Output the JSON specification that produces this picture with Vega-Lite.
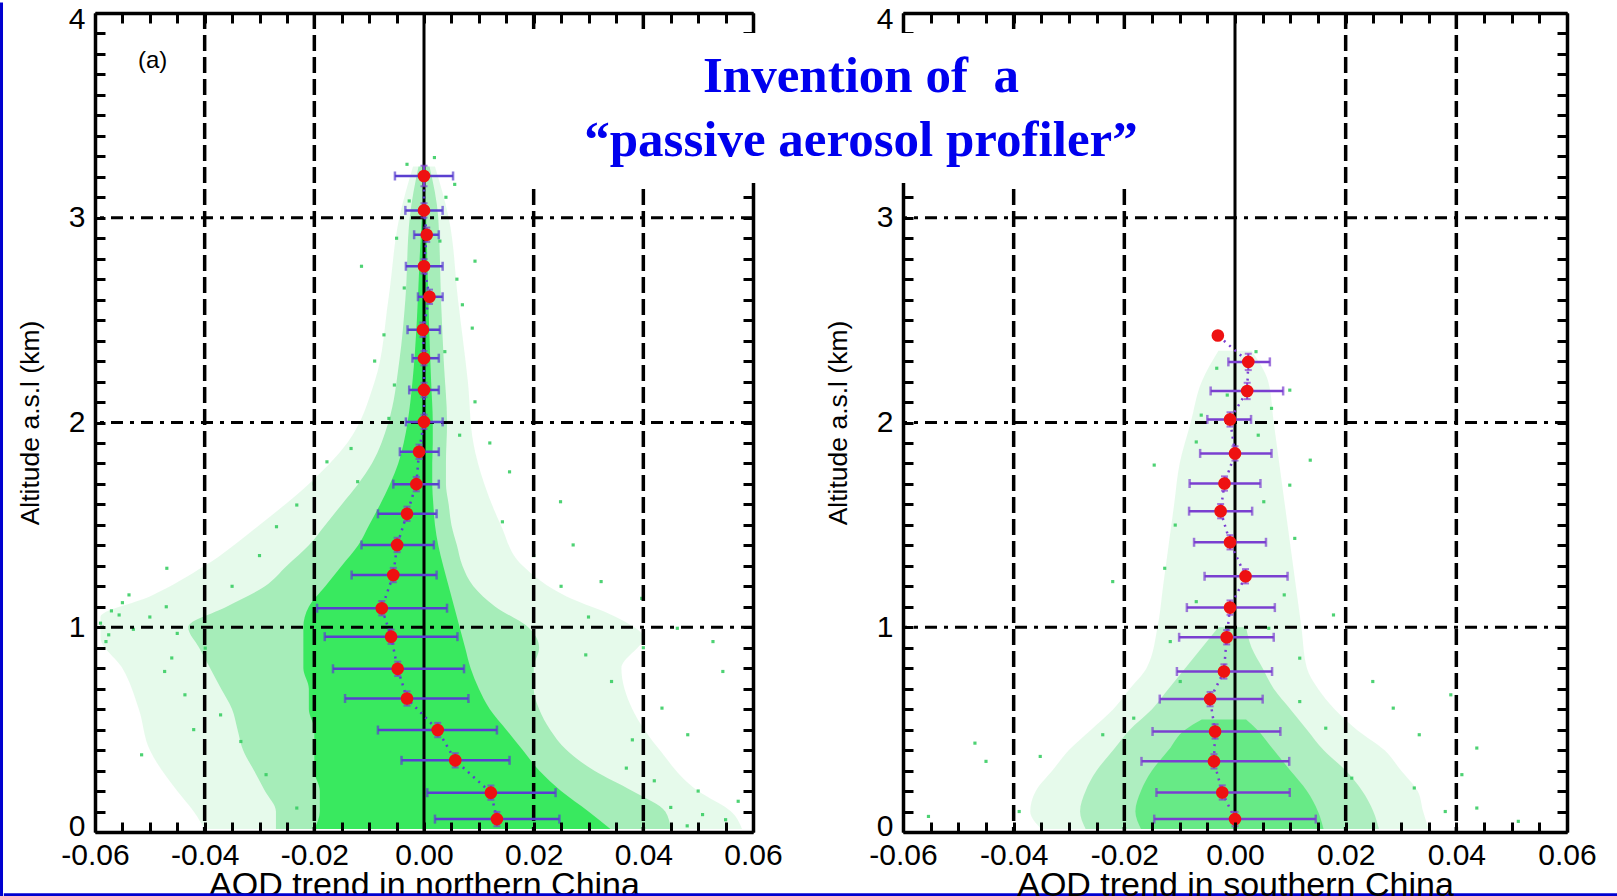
{
  "$schema": "https://vega.github.io/schema/vega-lite/v6.json",
  "padding": 0,
  "autosize": {"type": "pad"},
  "background": "white",
  "bounds": "flush",
  "spacing": 150,
  "config": {
    "font": "Liberation Sans",
    "view": {"stroke": null},
    "axis": {"grid": false, "domainColor": "black", "domainWidth": 3.5, "tickColor": "black", "tickWidth": 3, "tickSize": -10, "labelFont": "Liberation Sans", "labelFontSize": 30, "labelColor": "black", "labelOverlap": false, "labelBound": false, "titleFont": "Liberation Sans", "titleFontWeight": "normal", "titleColor": "black"},
    "axisX": {"labelPadding": 18, "titleFontSize": 34, "titlePadding": -2, "labelFlush": false},
    "axisY": {"labelPadding": 20, "titleFontSize": 26.5, "titlePadding": 24, "labelFlushOffset": 9}
  },
  "datasets": {
    "pts": [
      {"p":"N","alt":3.204,"x":0.0,"lo":-0.0053,"hi":0.0053,"alo":3.154,"ahi":3.254},
      {"p":"N","alt":3.036,"x":0.0,"lo":-0.0034,"hi":0.0034,"alo":3.001,"ahi":3.071},
      {"p":"N","alt":2.917,"x":0.0005,"lo":-0.0018,"hi":0.0027,"alo":2.882,"ahi":2.952},
      {"p":"N","alt":2.763,"x":0.0,"lo":-0.0033,"hi":0.0034,"alo":2.728,"ahi":2.798},
      {"p":"N","alt":2.614,"x":0.001,"lo":-0.0011,"hi":0.0034,"alo":2.579,"ahi":2.649},
      {"p":"N","alt":2.453,"x":-0.0002,"lo":-0.003,"hi":0.0029,"alo":2.418,"ahi":2.488},
      {"p":"N","alt":2.314,"x":0.0,"lo":-0.0021,"hi":0.0027,"alo":2.279,"ahi":2.349},
      {"p":"N","alt":2.159,"x":0.0,"lo":-0.0027,"hi":0.0027,"alo":2.124,"ahi":2.194},
      {"p":"N","alt":2.003,"x":0.0,"lo":-0.0033,"hi":0.0034,"alo":1.968,"ahi":2.038},
      {"p":"N","alt":1.857,"x":-0.0009,"lo":-0.0044,"hi":0.0027,"alo":1.822,"ahi":1.892},
      {"p":"N","alt":1.699,"x":-0.0014,"lo":-0.0056,"hi":0.0027,"alo":1.664,"ahi":1.734},
      {"p":"N","alt":1.554,"x":-0.0031,"lo":-0.0084,"hi":0.0023,"alo":1.519,"ahi":1.589},
      {"p":"N","alt":1.402,"x":-0.0049,"lo":-0.0114,"hi":0.0018,"alo":1.367,"ahi":1.437},
      {"p":"N","alt":1.255,"x":-0.0056,"lo":-0.0132,"hi":0.0023,"alo":1.22,"ahi":1.29},
      {"p":"N","alt":1.093,"x":-0.0077,"lo":-0.0195,"hi":0.0042,"alo":1.058,"ahi":1.128},
      {"p":"N","alt":0.954,"x":-0.006,"lo":-0.0181,"hi":0.0061,"alo":0.919,"ahi":0.989},
      {"p":"N","alt":0.797,"x":-0.0048,"lo":-0.0166,"hi":0.0073,"alo":0.762,"ahi":0.832},
      {"p":"N","alt":0.652,"x":-0.0031,"lo":-0.0144,"hi":0.0081,"alo":0.617,"ahi":0.687},
      {"p":"N","alt":0.498,"x":0.0025,"lo":-0.0084,"hi":0.0133,"alo":0.463,"ahi":0.533},
      {"p":"N","alt":0.35,"x":0.0057,"lo":-0.0041,"hi":0.0156,"alo":0.315,"ahi":0.385},
      {"p":"N","alt":0.192,"x":0.0122,"lo":0.0006,"hi":0.024,"alo":0.157,"ahi":0.227},
      {"p":"N","alt":0.063,"x":0.0133,"lo":0.002,"hi":0.0247,"alo":0.028,"ahi":0.098},
      {"p":"S","alt":2.425,"x":-0.0031,"lo":null,"hi":null,"alo":null,"ahi":null},
      {"p":"S","alt":2.296,"x":0.0024,"lo":-0.0012,"hi":0.0063,"alo":2.256,"ahi":2.336},
      {"p":"S","alt":2.154,"x":0.0022,"lo":-0.0044,"hi":0.0087,"alo":2.114,"ahi":2.194},
      {"p":"S","alt":2.015,"x":-0.0009,"lo":-0.005,"hi":0.0029,"alo":1.98,"ahi":2.05},
      {"p":"S","alt":1.849,"x":0.0,"lo":-0.0063,"hi":0.0066,"alo":1.814,"ahi":1.884},
      {"p":"S","alt":1.702,"x":-0.0019,"lo":-0.0082,"hi":0.0046,"alo":1.667,"ahi":1.737},
      {"p":"S","alt":1.567,"x":-0.0026,"lo":-0.0083,"hi":0.0031,"alo":1.532,"ahi":1.602},
      {"p":"S","alt":1.415,"x":-0.0009,"lo":-0.0074,"hi":0.0056,"alo":1.38,"ahi":1.45},
      {"p":"S","alt":1.249,"x":0.0019,"lo":-0.0055,"hi":0.0095,"alo":1.214,"ahi":1.284},
      {"p":"S","alt":1.096,"x":-0.0009,"lo":-0.0087,"hi":0.0072,"alo":1.061,"ahi":1.131},
      {"p":"S","alt":0.951,"x":-0.0015,"lo":-0.0101,"hi":0.007,"alo":0.916,"ahi":0.986},
      {"p":"S","alt":0.784,"x":-0.002,"lo":-0.0105,"hi":0.0067,"alo":0.749,"ahi":0.819},
      {"p":"S","alt":0.649,"x":-0.0045,"lo":-0.0136,"hi":0.005,"alo":0.614,"ahi":0.684},
      {"p":"S","alt":0.491,"x":-0.0036,"lo":-0.0149,"hi":0.0082,"alo":0.456,"ahi":0.526},
      {"p":"S","alt":0.345,"x":-0.0038,"lo":-0.0169,"hi":0.0098,"alo":0.31,"ahi":0.38},
      {"p":"S","alt":0.193,"x":-0.0023,"lo":-0.0142,"hi":0.0099,"alo":0.158,"ahi":0.228},
      {"p":"S","alt":0.063,"x":0.0,"lo":-0.0146,"hi":0.0146,"alo":0.028,"ahi":0.098}
    ],
    "env": [
      {"p":"N","lv":"o","y":0.015,"x1":-0.040,"x2":0.058},
      {"p":"N","lv":"o","y":0.1,"x1":-0.042,"x2":0.056},
      {"p":"N","lv":"o","y":0.2,"x1":-0.045,"x2":0.050},
      {"p":"N","lv":"o","y":0.4,"x1":-0.050,"x2":0.043},
      {"p":"N","lv":"o","y":0.6,"x1":-0.052,"x2":0.038},
      {"p":"N","lv":"o","y":0.8,"x1":-0.055,"x2":0.036},
      {"p":"N","lv":"o","y":0.95,"x1":-0.059,"x2":0.040},
      {"p":"N","lv":"o","y":1.05,"x1":-0.059,"x2":0.035},
      {"p":"N","lv":"o","y":1.15,"x1":-0.050,"x2":0.026},
      {"p":"N","lv":"o","y":1.3,"x1":-0.040,"x2":0.018},
      {"p":"N","lv":"o","y":1.5,"x1":-0.030,"x2":0.014},
      {"p":"N","lv":"o","y":1.7,"x1":-0.021,"x2":0.011},
      {"p":"N","lv":"o","y":1.9,"x1":-0.014,"x2":0.009},
      {"p":"N","lv":"o","y":2.2,"x1":-0.009,"x2":0.008},
      {"p":"N","lv":"o","y":2.6,"x1":-0.0065,"x2":0.0062},
      {"p":"N","lv":"o","y":3.0,"x1":-0.0045,"x2":0.0045},
      {"p":"N","lv":"o","y":3.25,"x1":-0.002,"x2":0.002},
      {"p":"N","lv":"m","y":0.015,"x1":-0.027,"x2":0.045},
      {"p":"N","lv":"m","y":0.1,"x1":-0.027,"x2":0.044},
      {"p":"N","lv":"m","y":0.2,"x1":-0.029,"x2":0.038},
      {"p":"N","lv":"m","y":0.3,"x1":-0.031,"x2":0.031},
      {"p":"N","lv":"m","y":0.4,"x1":-0.033,"x2":0.026},
      {"p":"N","lv":"m","y":0.5,"x1":-0.034,"x2":0.023},
      {"p":"N","lv":"m","y":0.6,"x1":-0.035,"x2":0.021},
      {"p":"N","lv":"m","y":0.7,"x1":-0.037,"x2":0.020},
      {"p":"N","lv":"m","y":0.8,"x1":-0.039,"x2":0.020},
      {"p":"N","lv":"m","y":0.9,"x1":-0.041,"x2":0.021},
      {"p":"N","lv":"m","y":1.0,"x1":-0.043,"x2":0.019},
      {"p":"N","lv":"m","y":1.1,"x1":-0.036,"x2":0.013},
      {"p":"N","lv":"m","y":1.2,"x1":-0.029,"x2":0.009},
      {"p":"N","lv":"m","y":1.3,"x1":-0.025,"x2":0.007},
      {"p":"N","lv":"m","y":1.4,"x1":-0.021,"x2":0.006},
      {"p":"N","lv":"m","y":1.5,"x1":-0.018,"x2":0.005},
      {"p":"N","lv":"m","y":1.6,"x1":-0.015,"x2":0.0045},
      {"p":"N","lv":"m","y":1.7,"x1":-0.012,"x2":0.004},
      {"p":"N","lv":"m","y":1.8,"x1":-0.0095,"x2":0.004},
      {"p":"N","lv":"m","y":2.0,"x1":-0.0065,"x2":0.0042},
      {"p":"N","lv":"m","y":2.3,"x1":-0.0045,"x2":0.0036},
      {"p":"N","lv":"m","y":2.6,"x1":-0.0034,"x2":0.0031},
      {"p":"N","lv":"m","y":3.0,"x1":-0.0026,"x2":0.0026},
      {"p":"N","lv":"m","y":3.25,"x1":-0.001,"x2":0.001},
      {"p":"N","lv":"c","y":0.015,"x1":-0.020,"x2":0.034},
      {"p":"N","lv":"c","y":0.1,"x1":-0.019,"x2":0.030},
      {"p":"N","lv":"c","y":0.2,"x1":-0.019,"x2":0.025},
      {"p":"N","lv":"c","y":0.3,"x1":-0.020,"x2":0.021},
      {"p":"N","lv":"c","y":0.4,"x1":-0.020,"x2":0.018},
      {"p":"N","lv":"c","y":0.5,"x1":-0.020,"x2":0.015},
      {"p":"N","lv":"c","y":0.6,"x1":-0.021,"x2":0.012},
      {"p":"N","lv":"c","y":0.7,"x1":-0.021,"x2":0.010},
      {"p":"N","lv":"c","y":0.8,"x1":-0.022,"x2":0.0085},
      {"p":"N","lv":"c","y":0.9,"x1":-0.022,"x2":0.0075},
      {"p":"N","lv":"c","y":1.0,"x1":-0.022,"x2":0.0065},
      {"p":"N","lv":"c","y":1.1,"x1":-0.021,"x2":0.0055},
      {"p":"N","lv":"c","y":1.2,"x1":-0.018,"x2":0.0045},
      {"p":"N","lv":"c","y":1.3,"x1":-0.015,"x2":0.0035},
      {"p":"N","lv":"c","y":1.4,"x1":-0.012,"x2":0.0026},
      {"p":"N","lv":"c","y":1.5,"x1":-0.010,"x2":0.002},
      {"p":"N","lv":"c","y":1.6,"x1":-0.008,"x2":0.0017},
      {"p":"N","lv":"c","y":1.7,"x1":-0.0062,"x2":0.0015},
      {"p":"N","lv":"c","y":1.8,"x1":-0.0047,"x2":0.0015},
      {"p":"N","lv":"c","y":1.9,"x1":-0.0037,"x2":0.0016},
      {"p":"N","lv":"c","y":2.0,"x1":-0.003,"x2":0.0016},
      {"p":"N","lv":"c","y":2.2,"x1":-0.0021,"x2":0.0013},
      {"p":"N","lv":"c","y":2.5,"x1":-0.0013,"x2":0.0009},
      {"p":"N","lv":"c","y":2.8,"x1":-0.0008,"x2":0.0006},
      {"p":"N","lv":"c","y":3.0,"x1":-0.0004,"x2":0.0004},
      {"p":"S","lv":"o","y":0.015,"x1":-0.035,"x2":0.035},
      {"p":"S","lv":"o","y":0.1,"x1":-0.037,"x2":0.034},
      {"p":"S","lv":"o","y":0.2,"x1":-0.036,"x2":0.033},
      {"p":"S","lv":"o","y":0.3,"x1":-0.033,"x2":0.030},
      {"p":"S","lv":"o","y":0.4,"x1":-0.030,"x2":0.027},
      {"p":"S","lv":"o","y":0.5,"x1":-0.026,"x2":0.022},
      {"p":"S","lv":"o","y":0.6,"x1":-0.022,"x2":0.018},
      {"p":"S","lv":"o","y":0.7,"x1":-0.019,"x2":0.015},
      {"p":"S","lv":"o","y":0.8,"x1":-0.016,"x2":0.013},
      {"p":"S","lv":"o","y":1.0,"x1":-0.014,"x2":0.012},
      {"p":"S","lv":"o","y":1.2,"x1":-0.013,"x2":0.011},
      {"p":"S","lv":"o","y":1.4,"x1":-0.012,"x2":0.010},
      {"p":"S","lv":"o","y":1.6,"x1":-0.011,"x2":0.009},
      {"p":"S","lv":"o","y":1.8,"x1":-0.010,"x2":0.008},
      {"p":"S","lv":"o","y":2.0,"x1":-0.008,"x2":0.007},
      {"p":"S","lv":"o","y":2.2,"x1":-0.006,"x2":0.006},
      {"p":"S","lv":"o","y":2.35,"x1":-0.003,"x2":0.003},
      {"p":"S","lv":"m","y":0.015,"x1":-0.027,"x2":0.026},
      {"p":"S","lv":"m","y":0.1,"x1":-0.028,"x2":0.025},
      {"p":"S","lv":"m","y":0.2,"x1":-0.027,"x2":0.023},
      {"p":"S","lv":"m","y":0.3,"x1":-0.025,"x2":0.020},
      {"p":"S","lv":"m","y":0.4,"x1":-0.022,"x2":0.016},
      {"p":"S","lv":"m","y":0.5,"x1":-0.019,"x2":0.013},
      {"p":"S","lv":"m","y":0.6,"x1":-0.015,"x2":0.010},
      {"p":"S","lv":"m","y":0.7,"x1":-0.012,"x2":0.007},
      {"p":"S","lv":"m","y":0.8,"x1":-0.009,"x2":0.005},
      {"p":"S","lv":"m","y":0.9,"x1":-0.006,"x2":0.003},
      {"p":"S","lv":"m","y":1.0,"x1":-0.003,"x2":0.002},
      {"p":"S","lv":"c","y":0.015,"x1":-0.017,"x2":0.016},
      {"p":"S","lv":"c","y":0.1,"x1":-0.018,"x2":0.015},
      {"p":"S","lv":"c","y":0.2,"x1":-0.017,"x2":0.013},
      {"p":"S","lv":"c","y":0.3,"x1":-0.015,"x2":0.010},
      {"p":"S","lv":"c","y":0.4,"x1":-0.012,"x2":0.007},
      {"p":"S","lv":"c","y":0.5,"x1":-0.009,"x2":0.004},
      {"p":"S","lv":"c","y":0.55,"x1":-0.006,"x2":0.002}
    ],
    "dots": [
      {"p":"N","x":-0.0469,"y":1.288},{"p":"N","x":-0.0269,"y":1.491},{"p":"N","x":-0.0232,"y":1.597},{"p":"N","x":0.0143,"y":1.515},
      {"p":"N","x":0.0272,"y":1.402},{"p":"N","x":0.0323,"y":1.223},{"p":"N","x":0.0397,"y":1.141},{"p":"N","x":0.0462,"y":0.995},
      {"p":"N","x":0.0545,"y":0.784},{"p":"N","x":0.0527,"y":0.93},{"p":"N","x":0.0481,"y":0.475},{"p":"N","x":0.0434,"y":0.605},
      {"p":"N","x":-0.0515,"y":0.377},{"p":"N","x":-0.0556,"y":1.06},{"p":"N","x":-0.0575,"y":0.963},{"p":"N","x":-0.0473,"y":0.784},
      {"p":"N","x":-0.0436,"y":0.67},{"p":"N","x":-0.0334,"y":0.442},{"p":"N","x":-0.0288,"y":0.28},{"p":"N","x":-0.0232,"y":0.117},
      {"p":"N","x":0.0573,"y":0.15},{"p":"N","x":0.0508,"y":0.085},{"p":"N","x":-0.0538,"y":1.158},{"p":"N","x":-0.0399,"y":0.898},
      {"p":"N","x":-0.0371,"y":0.572},{"p":"N","x":0.0295,"y":0.865},{"p":"N","x":0.0342,"y":0.735},{"p":"N","x":0.0369,"y":0.312},
      {"p":"N","x":0.0249,"y":1.613},{"p":"N","x":0.0156,"y":1.759},{"p":"N","x":-0.0177,"y":1.808},{"p":"N","x":-0.0121,"y":1.711},
      {"p":"N","x":-0.0114,"y":2.763},{"p":"N","x":0.0093,"y":2.788},{"p":"N","x":0.0088,"y":2.461},{"p":"N","x":-0.0073,"y":2.428},
      {"p":"N","x":0.007,"y":2.575},{"p":"N","x":-0.0054,"y":2.183},{"p":"N","x":0.0093,"y":2.101},{"p":"N","x":-0.0133,"y":1.873},
      {"p":"N","x":0.0056,"y":3.163},{"p":"N","x":-0.0027,"y":3.082},{"p":"N","x":0.0029,"y":2.886},{"p":"N","x":-0.0036,"y":2.657},
      {"p":"N","x":0.0038,"y":2.346},{"p":"N","x":-0.0064,"y":2.02},{"p":"N","x":0.0065,"y":1.938},{"p":"N","x":-0.0031,"y":3.261},
      {"p":"N","x":0.0019,"y":3.294},{"p":"N","x":-0.059,"y":1.02},{"p":"N","x":-0.057,"y":1.08},{"p":"N","x":-0.053,"y":0.99},
      {"p":"N","x":-0.05,"y":1.05},{"p":"N","x":-0.047,"y":1.1},{"p":"N","x":-0.045,"y":0.97},{"p":"N","x":-0.058,"y":0.93},
      {"p":"N","x":-0.055,"y":1.12},{"p":"N","x":0.045,"y":0.12},{"p":"N","x":0.05,"y":0.2},{"p":"N","x":0.055,"y":0.06},
      {"p":"N","x":0.042,"y":0.25},{"p":"N","x":0.048,"y":0.03},{"p":"N","x":-0.035,"y":1.2},{"p":"N","x":-0.03,"y":1.35},
      {"p":"N","x":-0.042,"y":0.5},{"p":"N","x":-0.046,"y":0.85},{"p":"N","x":0.03,"y":1.05},{"p":"N","x":0.025,"y":1.2},
      {"p":"N","x":0.038,"y":0.45},{"p":"N","x":0.04,"y":0.9},{"p":"N","x":0.02,"y":1.35},{"p":"N","x":-0.02,"y":1.7},
      {"p":"N","x":0.012,"y":1.9},{"p":"N","x":-0.009,"y":2.3},{"p":"N","x":0.006,"y":2.7},{"p":"N","x":-0.005,"y":2.9},
      {"p":"N","x":0.004,"y":3.1},
      {"p":"S","x":-0.047,"y":0.434},{"p":"S","x":-0.045,"y":0.345},{"p":"S","x":-0.0352,"y":0.369},{"p":"S","x":0.0437,"y":0.41},
      {"p":"S","x":0.039,"y":0.67},{"p":"S","x":0.0333,"y":0.475},{"p":"S","x":0.0249,"y":0.735},{"p":"S","x":0.0286,"y":0.605},
      {"p":"S","x":0.0178,"y":1.06},{"p":"S","x":0.0136,"y":1.816},{"p":"S","x":0.0099,"y":1.694},{"p":"S","x":-0.0146,"y":1.792},
      {"p":"S","x":-0.0221,"y":1.223},{"p":"S","x":-0.0127,"y":1.288},{"p":"S","x":0.0117,"y":0.849},{"p":"S","x":0.0211,"y":0.263},
      {"p":"S","x":0.0324,"y":0.215},{"p":"S","x":0.038,"y":0.1},{"p":"S","x":-0.0554,"y":0.076},{"p":"S","x":-0.039,"y":0.1},
      {"p":"S","x":0.0512,"y":0.052},{"p":"S","x":0.0437,"y":0.117},{"p":"S","x":0.041,"y":0.28},{"p":"S","x":-0.0117,"y":0.93},
      {"p":"S","x":0.0089,"y":1.158},{"p":"S","x":0.0108,"y":1.434},{"p":"S","x":-0.0108,"y":1.499},{"p":"S","x":0.0052,"y":1.613},
      {"p":"S","x":-0.007,"y":1.125},{"p":"S","x":0.0061,"y":0.995},{"p":"S","x":-0.0099,"y":0.735},{"p":"S","x":0.0117,"y":0.637},
      {"p":"S","x":-0.0183,"y":0.556},{"p":"S","x":-0.0239,"y":0.475},{"p":"S","x":0.0164,"y":0.507},{"p":"S","x":0.0099,"y":2.158},
      {"p":"S","x":-0.0061,"y":2.036},{"p":"S","x":0.0038,"y":2.346},{"p":"S","x":-0.0033,"y":2.265},{"p":"S","x":0.0042,"y":1.938},
      {"p":"S","x":-0.007,"y":1.905},{"p":"S","x":0.0066,"y":2.069},{"p":"S","x":-0.0014,"y":2.134}
    ],
    "gridx": [{"g":-0.04},{"g":-0.02},{"g":0.02},{"g":0.04}],
    "gridy": [{"g":1},{"g":2},{"g":3}]
  },
  "hconcat": [
    {
      "width": 658,
      "height": 819,
      "resolve": {"axis": {"x": "independent", "y": "independent"}},
      "layer": [
        {
          "data": {"name": "env"},
          "transform": [{"filter": "datum.p === 'N' && datum.lv === 'o'"}],
          "mark": {"type": "area", "orient": "horizontal", "interpolate": "monotone", "color": "#2fd35c", "opacity": 0.12},
          "encoding": {
            "y": {"field": "y", "type": "quantitative", "scale": {"domain": [0, 4], "nice": false, "zero": false},
              "axis": {"orient": "left", "zindex": 1, "values": [0,0.1,0.2,0.3,0.4,0.5,0.6,0.7,0.8,0.9,1,1.1,1.2,1.3,1.4,1.5,1.6,1.7,1.8,1.9,2,2.1,2.2,2.3,2.4,2.5,2.6,2.7,2.8,2.9,3,3.1,3.2,3.3,3.4,3.5,3.6,3.7,3.8,3.9,4],
                "labelExpr": "indexof([0,1,2,3,4], datum.value) >= 0 ? format(datum.value, 'd') : ''", "labelFlush": true, "title": "Altitude a.s.l (km)"}},
            "x": {"field": "x1", "type": "quantitative", "scale": {"domain": [-0.06, 0.06], "nice": false, "zero": false},
              "axis": {"orient": "bottom", "zindex": 1, "values": [-0.06,-0.055,-0.05,-0.045,-0.04,-0.035,-0.03,-0.025,-0.02,-0.015,-0.01,-0.005,0,0.005,0.01,0.015,0.02,0.025,0.03,0.035,0.04,0.045,0.05,0.055,0.06],
                "labelExpr": "indexof([-0.06,-0.04,-0.02,0,0.02,0.04,0.06], datum.value) >= 0 ? (datum.value < 0 ? '-' : '') + format(abs(datum.value), '.2f') : ''", "title": "AOD trend in northern China"}},
            "x2": {"field": "x2"}
          }
        },
        {
          "data": {"name": "env"},
          "transform": [{"filter": "datum.p === 'N' && datum.lv === 'm'"}],
          "mark": {"type": "area", "orient": "horizontal", "interpolate": "monotone", "color": "#2fd35c", "opacity": 0.35},
          "encoding": {
            "y": {"field": "y", "type": "quantitative", "axis": null},
            "x": {"field": "x1", "type": "quantitative", "axis": null},
            "x2": {"field": "x2"}
          }
        },
        {
          "data": {"name": "env"},
          "transform": [{"filter": "datum.p === 'N' && datum.lv === 'c'"}],
          "mark": {"type": "area", "orient": "horizontal", "interpolate": "monotone", "color": "#2ee855", "opacity": 0.9},
          "encoding": {
            "y": {"field": "y", "type": "quantitative", "axis": null},
            "x": {"field": "x1", "type": "quantitative", "axis": null},
            "x2": {"field": "x2"}
          }
        },
        {
          "data": {"name": "dots"},
          "transform": [{"filter": "datum.p === 'N'"}],
          "mark": {"type": "point", "filled": true, "shape": "square", "size": 10, "color": "#3acd64", "opacity": 0.9},
          "encoding": {
            "x": {"field": "x", "type": "quantitative",
              "axis": {"orient": "top", "zindex": 1, "labels": false, "title": null, "values": [-0.06,-0.055,-0.05,-0.045,-0.04,-0.035,-0.03,-0.025,-0.02,-0.015,-0.01,-0.005,0,0.005,0.01,0.015,0.02,0.025,0.03,0.035,0.04,0.045,0.05,0.055,0.06]}},
            "y": {"field": "y", "type": "quantitative",
              "axis": {"orient": "right", "zindex": 1, "labels": false, "title": null, "values": [0,0.1,0.2,0.3,0.4,0.5,0.6,0.7,0.8,0.9,1,1.1,1.2,1.3,1.4,1.5,1.6,1.7,1.8,1.9,2,2.1,2.2,2.3,2.4,2.5,2.6,2.7,2.8,2.9,3,3.1,3.2,3.3,3.4,3.5,3.6,3.7,3.8,3.9,4]}}
          }
        },
        {
          "data": {"name": "gridx"},
          "mark": {"type": "rule", "color": "black", "strokeWidth": 3.5, "strokeDash": [16, 6]},
          "encoding": {"x": {"field": "g", "type": "quantitative", "axis": null}}
        },
        {
          "data": {"values": [{}]},
          "mark": {"type": "rule", "color": "black", "strokeWidth": 3},
          "encoding": {"x": {"datum": 0, "type": "quantitative", "axis": null}}
        },
        {
          "data": {"name": "gridy"},
          "mark": {"type": "rule", "color": "black", "strokeWidth": 3, "strokeDash": [12, 7, 4, 7]},
          "encoding": {"y": {"field": "g", "type": "quantitative", "axis": null}}
        },
        {
          "data": {"name": "pts"},
          "transform": [{"filter": "datum.p === 'N'"}],
          "mark": {"type": "line", "color": "#5a3fd0", "strokeWidth": 2.5, "strokeDash": [2, 5]},
          "encoding": {
            "x": {"field": "x", "type": "quantitative", "axis": null},
            "y": {"field": "alt", "type": "quantitative", "axis": null},
            "order": {"field": "alt", "type": "quantitative"}
          }
        },
        {
          "data": {"name": "pts"},
          "transform": [{"filter": "datum.p === 'N' && datum.alo != null"}],
          "mark": {"type": "errorbar", "color": "#7a3fd0", "thickness": 2, "ticks": {"size": 7}},
          "encoding": {
            "x": {"field": "x", "type": "quantitative", "axis": null},
            "y": {"field": "alo", "type": "quantitative", "axis": null},
            "y2": {"field": "ahi"}
          }
        },
        {
          "data": {"name": "pts"},
          "transform": [{"filter": "datum.p === 'N' && datum.lo != null"}],
          "mark": {"type": "errorbar", "color": "#5a3fd0", "thickness": 2.5, "ticks": {"size": 9}},
          "encoding": {
            "x": {"field": "lo", "type": "quantitative", "axis": null},
            "x2": {"field": "hi"},
            "y": {"field": "alt", "type": "quantitative", "axis": null}
          }
        },
        {
          "data": {"name": "pts"},
          "transform": [{"filter": "datum.p === 'N'"}],
          "mark": {"type": "point", "shape": "circle", "filled": true, "size": 160, "color": "#ee1111", "opacity": 1},
          "encoding": {
            "x": {"field": "x", "type": "quantitative", "axis": null},
            "y": {"field": "alt", "type": "quantitative", "axis": null}
          }
        },
        {
          "data": {"values": [{}]},
          "mark": {"type": "text", "font": "Liberation Sans", "fontSize": 24, "color": "black", "align": "center", "baseline": "middle"},
          "encoding": {
            "x": {"datum": -0.0495, "type": "quantitative", "axis": null},
            "y": {"datum": 3.7665, "type": "quantitative", "axis": null},
            "text": {"value": "(a)"}
          }
        },
        {
          "data": {"values": [{}]},
          "mark": {"type": "rule", "color": "#0000d0", "strokeWidth": 3},
          "encoding": {
            "x": {"datum": -0.07705, "type": "quantitative", "axis": null},
            "y": {"datum": 4.0513, "type": "quantitative", "axis": null},
            "y2": {"datum": -0.35}
          }
        }
      ]
    },
    {
      "width": 664,
      "height": 819,
      "resolve": {"axis": {"x": "independent", "y": "independent"}},
      "layer": [
        {
          "data": {"name": "env"},
          "transform": [{"filter": "datum.p === 'S' && datum.lv === 'o'"}],
          "mark": {"type": "area", "orient": "horizontal", "interpolate": "monotone", "color": "#2fd35c", "opacity": 0.12},
          "encoding": {
            "y": {"field": "y", "type": "quantitative", "scale": {"domain": [0, 4], "nice": false, "zero": false},
              "axis": {"orient": "left", "zindex": 0, "values": [0,0.1,0.2,0.3,0.4,0.5,0.6,0.7,0.8,0.9,1,1.1,1.2,1.3,1.4,1.5,1.6,1.7,1.8,1.9,2,2.1,2.2,2.3,2.4,2.5,2.6,2.7,2.8,2.9,3,3.1,3.2,3.3,3.4,3.5,3.6,3.7,3.8,3.9,4],
                "labelExpr": "indexof([0,1,2,3,4], datum.value) >= 0 ? format(datum.value, 'd') : ''", "labelFlush": true, "title": "Altitude a.s.l (km)"}},
            "x": {"field": "x1", "type": "quantitative", "scale": {"domain": [-0.06, 0.06], "nice": false, "zero": false},
              "axis": {"orient": "bottom", "zindex": 1, "values": [-0.06,-0.055,-0.05,-0.045,-0.04,-0.035,-0.03,-0.025,-0.02,-0.015,-0.01,-0.005,0,0.005,0.01,0.015,0.02,0.025,0.03,0.035,0.04,0.045,0.05,0.055,0.06],
                "labelExpr": "indexof([-0.06,-0.04,-0.02,0,0.02,0.04,0.06], datum.value) >= 0 ? (datum.value < 0 ? '-' : '') + format(abs(datum.value), '.2f') : ''", "title": "AOD trend in southern China"}},
            "x2": {"field": "x2"}
          }
        },
        {
          "data": {"name": "env"},
          "transform": [{"filter": "datum.p === 'S' && datum.lv === 'm'"}],
          "mark": {"type": "area", "orient": "horizontal", "interpolate": "monotone", "color": "#2fd35c", "opacity": 0.3},
          "encoding": {
            "y": {"field": "y", "type": "quantitative", "axis": null},
            "x": {"field": "x1", "type": "quantitative", "axis": null},
            "x2": {"field": "x2"}
          }
        },
        {
          "data": {"name": "env"},
          "transform": [{"filter": "datum.p === 'S' && datum.lv === 'c'"}],
          "mark": {"type": "area", "orient": "horizontal", "interpolate": "monotone", "color": "#2ee855", "opacity": 0.55},
          "encoding": {
            "y": {"field": "y", "type": "quantitative", "axis": null},
            "x": {"field": "x1", "type": "quantitative", "axis": null},
            "x2": {"field": "x2"}
          }
        },
        {
          "data": {"name": "dots"},
          "transform": [{"filter": "datum.p === 'S'"}],
          "mark": {"type": "point", "filled": true, "shape": "square", "size": 10, "color": "#3acd64", "opacity": 0.9},
          "encoding": {
            "x": {"field": "x", "type": "quantitative",
              "axis": {"orient": "top", "zindex": 1, "labels": false, "title": null, "values": [-0.06,-0.055,-0.05,-0.045,-0.04,-0.035,-0.03,-0.025,-0.02,-0.015,-0.01,-0.005,0,0.005,0.01,0.015,0.02,0.025,0.03,0.035,0.04,0.045,0.05,0.055,0.06]}},
            "y": {"field": "y", "type": "quantitative",
              "axis": {"orient": "right", "zindex": 1, "labels": false, "title": null, "values": [0,0.1,0.2,0.3,0.4,0.5,0.6,0.7,0.8,0.9,1,1.1,1.2,1.3,1.4,1.5,1.6,1.7,1.8,1.9,2,2.1,2.2,2.3,2.4,2.5,2.6,2.7,2.8,2.9,3,3.1,3.2,3.3,3.4,3.5,3.6,3.7,3.8,3.9,4]}}
          }
        },
        {
          "data": {"name": "gridx"},
          "mark": {"type": "rule", "color": "black", "strokeWidth": 3.5, "strokeDash": [16, 6]},
          "encoding": {"x": {"field": "g", "type": "quantitative", "axis": null}}
        },
        {
          "data": {"values": [{}]},
          "mark": {"type": "rule", "color": "black", "strokeWidth": 3},
          "encoding": {"x": {"datum": 0, "type": "quantitative", "axis": null}}
        },
        {
          "data": {"name": "gridy"},
          "mark": {"type": "rule", "color": "black", "strokeWidth": 3, "strokeDash": [12, 7, 4, 7]},
          "encoding": {"y": {"field": "g", "type": "quantitative", "axis": null}}
        },
        {
          "data": {"name": "pts"},
          "transform": [{"filter": "datum.p === 'S'"}],
          "mark": {"type": "line", "color": "#7a3fd0", "strokeWidth": 2.5, "strokeDash": [2, 5]},
          "encoding": {
            "x": {"field": "x", "type": "quantitative", "axis": null},
            "y": {"field": "alt", "type": "quantitative", "axis": null},
            "order": {"field": "alt", "type": "quantitative"}
          }
        },
        {
          "data": {"name": "pts"},
          "transform": [{"filter": "datum.p === 'S' && datum.alo != null"}],
          "mark": {"type": "errorbar", "color": "#8a3fd0", "thickness": 2, "ticks": {"size": 7}},
          "encoding": {
            "x": {"field": "x", "type": "quantitative", "axis": null},
            "y": {"field": "alo", "type": "quantitative", "axis": null},
            "y2": {"field": "ahi"}
          }
        },
        {
          "data": {"name": "pts"},
          "transform": [{"filter": "datum.p === 'S' && datum.lo != null"}],
          "mark": {"type": "errorbar", "color": "#7a3fd0", "thickness": 2.5, "ticks": {"size": 9}},
          "encoding": {
            "x": {"field": "lo", "type": "quantitative", "axis": null},
            "x2": {"field": "hi"},
            "y": {"field": "alt", "type": "quantitative", "axis": null}
          }
        },
        {
          "data": {"name": "pts"},
          "transform": [{"filter": "datum.p === 'S'"}],
          "mark": {"type": "point", "shape": "circle", "filled": true, "size": 160, "color": "#ee1111", "opacity": 1},
          "encoding": {
            "x": {"field": "x", "type": "quantitative", "axis": null},
            "y": {"field": "alt", "type": "quantitative", "axis": null}
          }
        },
        {
          "data": {"values": [{}]},
          "mark": {"type": "rect", "color": "white", "opacity": 1},
          "encoding": {
            "x": {"datum": -0.1278, "type": "quantitative", "axis": null},
            "x2": {"datum": -0.013},
            "y": {"datum": 3.9023, "type": "quantitative", "axis": null},
            "y2": {"datum": 3.1697}
          }
        },
        {
          "data": {"values": [{}]},
          "mark": {"type": "text", "font": "Liberation Serif", "fontWeight": "bold", "fontSize": 51, "color": "#0000ee", "align": "center", "baseline": "alphabetic", "lineHeight": 64},
          "encoding": {
            "x": {"datum": -0.0676, "type": "quantitative", "axis": null},
            "y": {"datum": 3.6156, "type": "quantitative", "axis": null},
            "text": {"value": ["Invention of\u00a0 a", "\u201cpassive aerosol profiler\u201d"]}
          }
        },
        {
          "data": {"values": [{}]},
          "mark": {"type": "rule", "color": "#0000d0", "strokeWidth": 4},
          "encoding": {
            "x": {"datum": -0.2225, "type": "quantitative", "axis": null},
            "x2": {"datum": 0.075},
            "y": {"datum": -0.3085, "type": "quantitative", "axis": null}
          }
        }
      ]
    }
  ]
}
